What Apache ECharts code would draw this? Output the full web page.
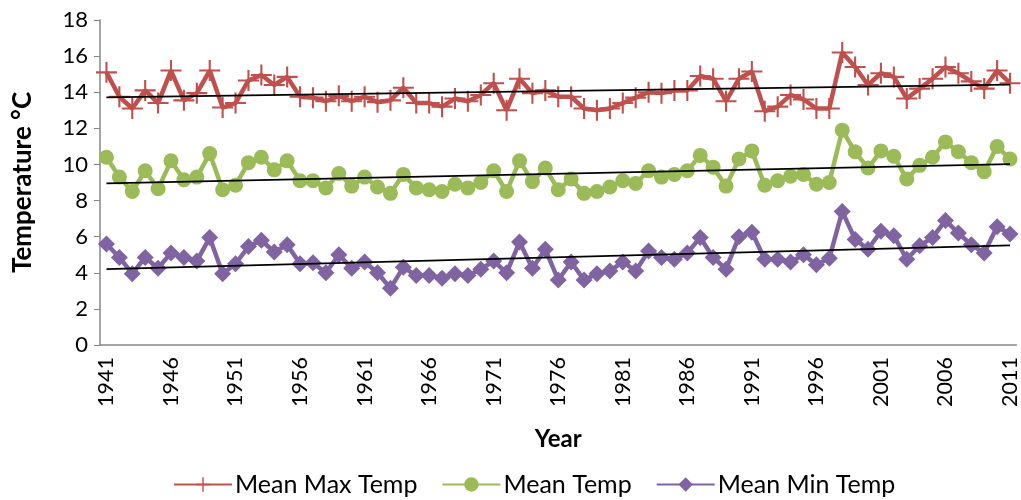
<!DOCTYPE html>
<html>
<head>
<meta charset="utf-8">
<script src="https://cdn.jsdelivr.net/npm/echarts@6/dist/echarts.min.js"></script>
<style>html,body{margin:0;padding:0;background:#fff}#c{width:1021px;height:500px}</style>
</head>
<body>
<div id="c"></div>
<script>
var years = [];
for (var y = 1941; y <= 2011; y++) years.push(String(y));

var meanMax = [15.1,13.75,13.1,14.1,13.4,15.2,13.55,13.95,15.2,13.15,13.4,14.65,14.95,14.4,14.85,13.75,13.7,13.5,13.8,13.5,13.75,13.45,13.55,14.25,13.4,13.4,13.2,13.65,13.5,13.85,14.5,13.0,14.75,13.95,14.1,13.75,13.75,13.1,13.0,13.1,13.4,13.7,14.0,13.95,14.1,14.1,14.9,14.75,13.5,14.75,15.15,12.95,13.2,13.85,13.6,13.1,13.1,16.2,15.4,14.4,15.05,14.85,13.65,14.2,14.75,15.4,15.05,14.6,14.2,15.2,14.5];
var meanTemp = [10.4,9.3,8.5,9.65,8.65,10.2,9.15,9.3,10.6,8.6,8.85,10.1,10.4,9.7,10.2,9.1,9.1,8.7,9.5,8.8,9.3,8.75,8.4,9.45,8.7,8.6,8.5,8.9,8.7,9.0,9.65,8.5,10.2,9.05,9.8,8.6,9.2,8.4,8.5,8.75,9.1,8.95,9.65,9.3,9.45,9.65,10.5,9.85,8.8,10.3,10.75,8.85,9.1,9.35,9.45,8.9,9.0,11.9,10.7,9.8,10.75,10.45,9.2,9.95,10.4,11.25,10.7,10.1,9.6,11.0,10.3];
var meanMin = [5.6,4.85,3.95,4.85,4.25,5.1,4.85,4.65,5.95,3.95,4.5,5.45,5.8,5.15,5.55,4.5,4.55,4.0,5.0,4.25,4.6,4.0,3.15,4.3,3.85,3.85,3.7,3.95,3.85,4.2,4.65,4.0,5.7,4.25,5.3,3.6,4.6,3.6,3.95,4.1,4.6,4.1,5.2,4.85,4.75,5.1,5.95,4.85,4.2,6.0,6.25,4.75,4.75,4.6,5.0,4.45,4.8,7.4,5.85,5.3,6.3,6.05,4.75,5.5,5.95,6.9,6.2,5.55,5.1,6.55,6.15];

// trend line endpoints (1941, 2011)
var trendMaxEnds = [13.72, 14.42];
var trendMeanEnds = [8.95, 10.02];
var trendMinEnds = [4.2, 5.52];

var yTicks = [0,2,4,6,8,10,12,14,16,18];

function endsSeries(ends) {
  var d = years.map(function(){ return null; });
  d[0] = ends[0];
  d[d.length - 1] = ends[1];
  return d;
}

var FONT = 'Lato';
var plusPath = 'path://M9,0 h2 v9 h9 v2 h-9 v9 h-2 v-9 h-9 v-2 h9 z';

var chart = echarts.init(document.getElementById('c'), null, {renderer: 'canvas'});
chart.setOption({
  animation: false,
  textStyle: {fontFamily: FONT},
  grid: {left: 100, right: 3, top: 20, bottom: 155, containLabel: false},
  legend: {
    data: ['Mean Max Temp', 'Mean Temp', 'Mean Min Temp'],
    top: 467,
    left: 168,
    itemWidth: 58,
    itemHeight: 18,
    itemGap: 24,
    textStyle: {fontSize: 25, color: '#000', fontFamily: FONT, padding: [0, 0, 0, -2]}
  },
  xAxis: {
    type: 'category',
    data: years,
    boundaryGap: true,
    name: 'Year',
    nameLocation: 'middle',
    nameGap: 82,
    nameTextStyle: {fontSize: 24, fontWeight: 'bold', color: '#000', fontFamily: FONT},
    axisLine: {lineStyle: {color: '#868686', width: 1.5}},
    axisTick: {show: false},
    axisLabel: {interval: 4, rotate: 90, fontSize: 21.5, color: '#000', margin: 12, fontFamily: FONT},
    splitLine: {show: false}
  },
  yAxis: {
    type: 'value',
    min: 0,
    max: 18,
    interval: 2,
    name: 'Temperature °C',
    nameLocation: 'middle',
    nameGap: 64,
    nameTextStyle: {fontSize: 26, fontWeight: 'bold', color: '#000', fontFamily: FONT},
    axisLine: {show: true, lineStyle: {color: '#868686', width: 1.5}},
    axisTick: {show: true, length: 6, inside: false, lineStyle: {color: '#868686'}},
    axisLabel: {fontSize: 22, color: '#000', margin: 12, fontFamily: FONT,
      formatter: function(v){ return yTicks.indexOf(v) >= 0 ? String(v) : ''; }},
    splitLine: {show: false}
  },
  series: [
    {name: 'Mean Max Temp', type: 'line', data: meanMax, symbol: plusPath, symbolSize: 21, showAllSymbol: true,
     lineStyle: {color: '#C0504D', width: 4.5}, itemStyle: {color: '#C0504D'}, z: 3},
    {name: 'Mean Temp', type: 'line', data: meanTemp, symbol: 'circle', symbolSize: 15, showAllSymbol: true,
     lineStyle: {color: '#9BBB59', width: 4.5}, itemStyle: {color: '#9BBB59'}, z: 3},
    {name: 'Mean Min Temp', type: 'line', data: meanMin, symbol: 'diamond', symbolSize: 17, showAllSymbol: true,
     lineStyle: {color: '#8064A2', width: 4.5}, itemStyle: {color: '#8064A2'}, z: 3},
    {name: 'trendMax', type: 'line', data: endsSeries(trendMaxEnds), connectNulls: true, symbol: 'none',
     lineStyle: {color: '#000', width: 1.8}, z: 5, silent: true},
    {name: 'trendMean', type: 'line', data: endsSeries(trendMeanEnds), connectNulls: true, symbol: 'none',
     lineStyle: {color: '#000', width: 1.8}, z: 5, silent: true},
    {name: 'trendMin', type: 'line', data: endsSeries(trendMinEnds), connectNulls: true, symbol: 'none',
     lineStyle: {color: '#000', width: 1.8}, z: 5, silent: true}
  ]
});
</script>
</body>
</html>
